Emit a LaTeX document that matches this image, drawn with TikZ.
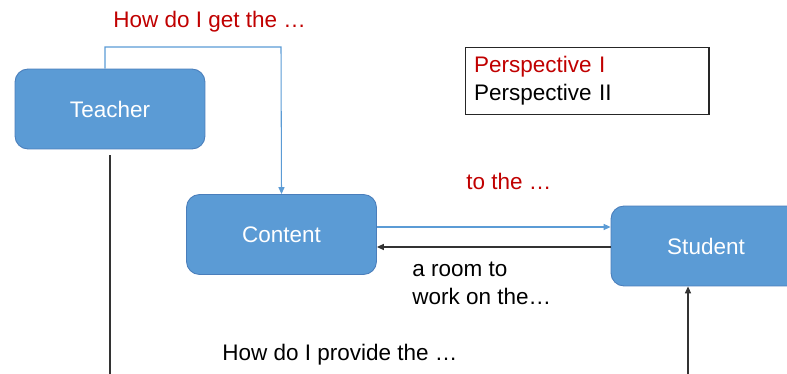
\documentclass[tikz,border=0pt]{standalone}
\usepackage{fontspec}
\setmainfont{Liberation Sans}
\usetikzlibrary{arrows.meta}
\definecolor{boxblue}{RGB}{91,155,213}
\definecolor{boxedge}{RGB}{74,126,187}
\definecolor{darkred}{RGB}{192,0,0}

\begin{document}
\begin{tikzpicture}[x=0.02cm, y=-0.02cm,
	every node/.style={font=\fontsize{12.8}{15.6}\selectfont},
	actor/.style={draw=boxedge, line width=0.5pt, fill=boxblue, text=white, rounded corners=0.26cm, minimum width=3.8cm, minimum height=1.6cm},
	blueline/.style={draw=boxblue, line width=0.6pt},
	blackline/.style={draw=black!80, line width=0.6pt},
	tip/.style={-{Triangle[length=4pt,width=3.5pt]}}]
	\useasboundingbox (0,0) rectangle (787,374);
	\clip (0,0) rectangle (787,374);
	%\draw[help lines] (0,0) grid[step=1cm] (787,374);
	\node[actor] (teacher) at (110,109) {Teacher};
	\node[actor] (content) at (281.5,234.5) {Content};
	\node[actor] (student) at (706,246) {Student};
	\node[draw=black!85, line width=0.6pt, text width=4.52cm, inner sep=0.18cm, align=left, font=\fontsize{12.8}{16}\selectfont] (legend) at (587,81) {\textcolor{darkred}{Perspective I}\\Perspective II};
	% Perspective I
	\coordinate (bend) at (281,47);
	\draw[blueline, tip] ([xshift=-0.1cm]teacher.north) |- (bend) -- (content.north);
	\node[anchor=west, inner sep=0, text=darkred] (get) at (113,22) {How do I get the …};
	\coordinate (c1) at ([yshift=0.15cm]content.east);
	\draw[blueline, tip] (c1) -- (c1 -| student.west);
	\node[anchor=west, inner sep=0, text=darkred] (tothe) at (466,181) {to the …};
	% Perspective II
	\coordinate (c2) at ([yshift=-0.25cm]content.east);
	\draw[blackline, tip] (c2 -| student.west) -- (c2);
	\node[anchor=west, inner sep=0, align=left] (room) at (412,283.5) {a room to\\work on the…};
	\coordinate (tbot) at (110,374);
	\draw[blackline] ([yshift=-0.12cm]teacher.south) -- (tbot);
	\coordinate (sbot) at (688,374);
	\draw[blackline, tip] (sbot) -- (sbot |- student.south);
	\node[anchor=west, inner sep=0] (provide) at (222,355) {How do I provide the …};
\end{tikzpicture}
\end{document}
